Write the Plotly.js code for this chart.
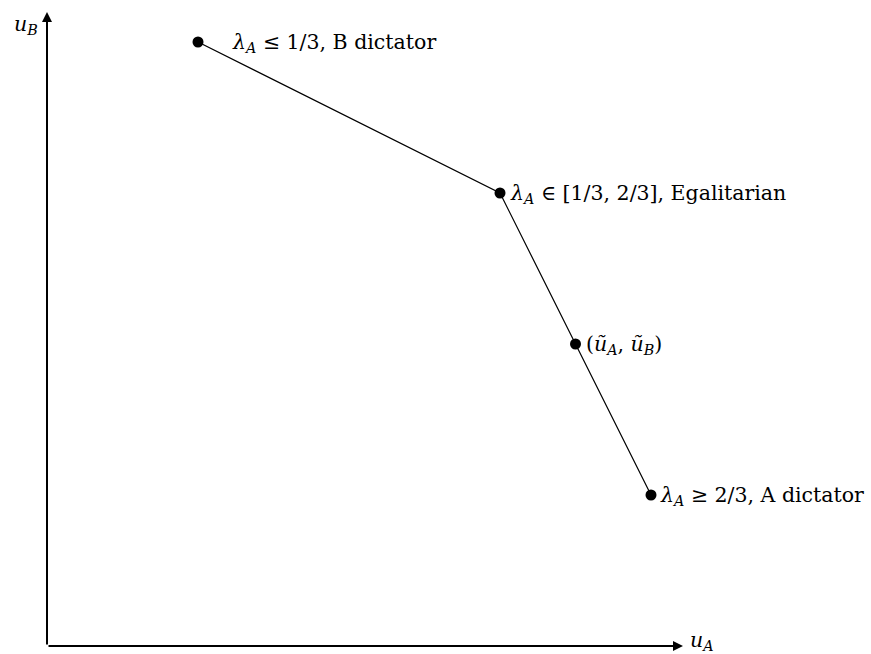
<!DOCTYPE html>
<html><head><meta charset="utf-8">
<script src="https://cdn.plot.ly/plotly-3.0.1.min.js"></script>
<style>html,body{margin:0;padding:0;background:#fff}#chart{width:871px;height:654px}</style>
</head><body><div id="chart"></div>
<script>
const uA = [1, 3, 3.5, 4];
const uB = [4, 3, 2, 1];
const pointLabels = [
  "<i>λ</i><sub><i>A</i></sub> ≤ 1/3, B dictator",
  "<i>λ</i><sub><i>A</i></sub> ∈ [1/3, 2/3], Egalitarian",
  "(<i>ũ</i><sub><i>A</i></sub>, <i>ũ</i><sub><i>B</i></sub>)",
  "<i>λ</i><sub><i>A</i></sub> ≥ 2/3, A dictator"
];
const labelShift = [32, 8, 8, 7];
const axisLabels = {x: "<i>u</i><sub><i>A</i></sub>", y: "<i>u</i><sub><i>B</i></sub>"};

const S = 151; // px per unit
const xr = [-47 / S, (871 - 47) / S];
const yr = [-(654 - 646) / S, 646 / S];
const xEnd = (683 - 47) / S, yEnd = (646 - 12) / S;
const font = {family: "DejaVu Serif, Liberation Serif, serif", size: 20.5, color: "#000"};

const trace = {
  x: uA, y: uB, mode: "lines+markers", type: "scatter",
  line: {color: "#000", width: 1.2},
  marker: {color: "#000", size: 11},
  hoverinfo: "skip", cliponaxis: false
};

const annotations = uA.map((x, i) => ({
  x: x, y: uB[i], xref: "x", yref: "y", text: pointLabels[i],
  showarrow: false, xanchor: "left", yanchor: "middle", xshift: labelShift[i], yshift: -1,
  font: font
}));
// axes arrows
annotations.push({x: xEnd, y: 0, ax: 0, ay: 0, xref: "x", yref: "y", axref: "x", ayref: "y",
  showarrow: true, arrowhead: 2, arrowsize: 1, arrowwidth: 2, arrowcolor: "#000", text: ""});
annotations.push({x: 0, y: yEnd, ax: 0, ay: 0, xref: "x", yref: "y", axref: "x", ayref: "y",
  showarrow: true, arrowhead: 2, arrowsize: 1, arrowwidth: 2, arrowcolor: "#000", text: ""});
annotations.push({x: xEnd, y: 0, xref: "x", yref: "y", text: axisLabels.x, showarrow: false,
  xanchor: "left", yanchor: "middle", xshift: 5, yshift: 5, font: font});
annotations.push({x: 0, y: yEnd, xref: "x", yref: "y", text: axisLabels.y, showarrow: false,
  xanchor: "right", yanchor: "middle", xshift: -7, yshift: -13, font: font});

const layout = {
  width: 871, height: 654,
  margin: {l: 0, r: 0, t: 0, b: 0},
  paper_bgcolor: "#fff", plot_bgcolor: "#fff",
  showlegend: false,
  xaxis: {range: xr, visible: false, fixedrange: true},
  yaxis: {range: yr, visible: false, fixedrange: true},
  annotations: annotations
};
Plotly.newPlot("chart", [trace], layout, {displayModeBar: false, staticPlot: true});
</script></body></html>
